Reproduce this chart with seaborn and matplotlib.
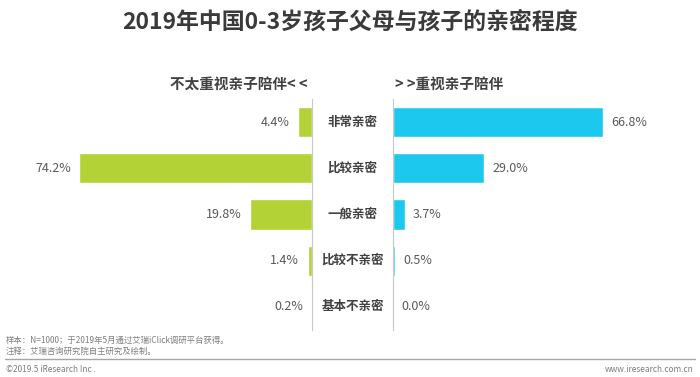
import matplotlib
matplotlib.use('Agg')
import matplotlib.pyplot as plt
import seaborn as sns
import pandas as pd

sns.set_style('white')
plt.rcParams['font.family'] = ['Noto Sans CJK SC', 'DejaVu Sans']

# data
levels = ['非常亲密', '比较亲密', '一般亲密', '比较不亲密', '基本不亲密']
low_care = [4.4, 74.2, 19.8, 1.4, 0.2]     # 不太重视亲子陪伴
high_care = [66.8, 29.0, 3.7, 0.5, 0.0]    # 重视亲子陪伴

green = '#B2D235'
blue = '#1DC8EE'
txt = '#595959'

df = pd.DataFrame({'level': levels, 'low': low_care, 'high': high_care})

fig = plt.figure(figsize=(7, 3.77), dpi=100)
W, H = 700, 377

def px_ax(x0, x1, y_top, y_bot):
    return fig.add_axes([x0 / W, 1 - y_bot / H, (x1 - x0) / W, (y_bot - y_top) / H])

axl = px_ax(61, 312, 99, 330)
axr = px_ax(393, 644, 99, 330)

sns.barplot(data=df, x='low', y='level', color=green, orient='h',
            width=0.65, saturation=1, ax=axl)
sns.barplot(data=df, x='high', y='level', color=blue, orient='h',
            width=0.65, saturation=1, ax=axr)

axl.set_xlim(80, 0)
axr.set_xlim(0, 80)
for ax in (axl, axr):
    ax.set_ylim(4.5, -0.5)
    ax.set_xlabel('')
    ax.set_ylabel('')
    ax.set_xticks([])
    ax.set_yticks([])
    for s in ax.spines.values():
        s.set_visible(False)
axl.spines['right'].set_visible(True)
axl.spines['right'].set_color('#C8C8C8')
axr.spines['left'].set_visible(True)
axr.spines['left'].set_color('#C8C8C8')

for i, v in enumerate(low_care):
    axl.annotate(f'{v:.1f}%', (v, i), xytext=(-6, 0), textcoords='offset points',
                 ha='right', va='center', fontsize=9, color=txt)
for i, v in enumerate(high_care):
    axr.annotate(f'{v:.1f}%', (v, i), xytext=(6, 0), textcoords='offset points',
                 ha='left', va='center', fontsize=9, color=txt)

# category names in the middle column
for i, lab in enumerate(levels):
    y = axl.transData.transform((0, i))[1]
    fig.text(352.5 / W, y / (fig.dpi * 3.77), lab, ha='center', va='center',
             fontsize=9, fontweight='bold', color='#404040')

fig.text(0.5, 1 - 22 / H, '2019年中国0-3岁孩子父母与孩子的亲密程度',
         ha='center', va='center', fontsize=16.5, fontweight='bold', color='#3A3A3A')
fig.text(308 / W, 1 - 84 / H, '不太重视亲子陪伴< <', ha='right', va='center',
         fontsize=10.5, fontweight='bold', color='#404040')
fig.text(395 / W, 1 - 84 / H, '> >重视亲子陪伴', ha='left', va='center',
         fontsize=10.5, fontweight='bold', color='#404040')

fig.text(6 / W, 1 - 340 / H, '样本：N=1000；于2019年5月通过艾瑞iClick调研平台获得。',
         ha='left', va='center', fontsize=6, color='#7F7F7F')
fig.text(6 / W, 1 - 351 / H, '注释：艾瑞咨询研究院自主研究及绘制。',
         ha='left', va='center', fontsize=6, color='#7F7F7F')
fig.add_artist(plt.Line2D([5 / W, 695 / W], [1 - 359 / H, 1 - 359 / H],
                          color='#A6A6A6', lw=1))
fig.text(6 / W, 1 - 369 / H, '©2019.5 iResearch Inc .', ha='left', va='center',
         fontsize=6, color='#7F7F7F')
fig.text(694 / W, 1 - 369 / H, 'www.iresearch.com.cn', ha='right', va='center',
         fontsize=6, color='#7F7F7F')

fig.savefig('out.png', dpi=100)
